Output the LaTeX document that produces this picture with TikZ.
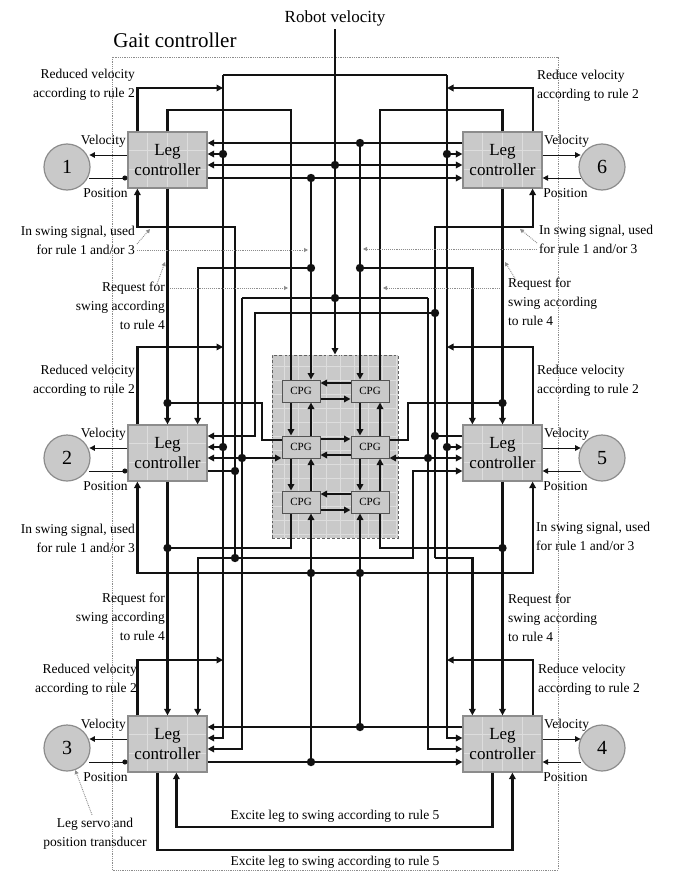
\documentclass[tikz,border=0pt]{standalone}
\usepackage{fontspec}
\setmainfont{Liberation Serif}
\usetikzlibrary{arrows.meta,calc}
\definecolor{boxgrey}{HTML}{C9C9C9}
\definecolor{gridgrey}{HTML}{DDDDDD}
\definecolor{wire}{HTML}{121212}
\definecolor{frame}{HTML}{8C8C8C}

\begin{document}
\begin{tikzpicture}[x=1pt,y=-1pt,
  font=\fontsize{13.5}{19}\selectfont,
  legc/.style={draw=frame,fill=boxgrey,line width=1.2pt,minimum width=79pt,minimum height=56pt,
               align=center,inner sep=0pt,font=\fontsize{17}{20}\selectfont,
               path picture={
                 \foreach \f in {0.25,0.5,0.75}
                   \draw[gridgrey,line width=0.8pt]
                     ($(path picture bounding box.north west)!\f!(path picture bounding box.north east)$) -- ++(0,60);
                 \foreach \f in {0.33,0.67}
                   \draw[gridgrey,line width=0.8pt]
                     ($(path picture bounding box.north west)!\f!(path picture bounding box.south west)$) -- ++(80,0);}},
  leg/.style={circle,draw=frame,fill=boxgrey,line width=1.2pt,minimum size=46pt,inner sep=0pt,
              font=\fontsize{20}{20}\selectfont},
  cpg/.style={draw=frame!60!black,fill=boxgrey,line width=1pt,minimum width=38pt,minimum height=22pt,
              inner sep=0pt,font=\fontsize{11}{11}\selectfont},
  lblr/.style={align=right,anchor=east,inner sep=0pt},
  lbll/.style={align=left,anchor=west,inner sep=0pt},
  w/.style={draw=wire,line width=2.2pt},
  wa/.style={w,-{Triangle[length=6.5pt,width=6.5pt]}},
  io/.style={draw=wire,line width=1pt,-{Triangle[length=5.5pt,width=5.5pt]}},
  iod/.style={draw=wire,line width=1pt,-{Circle[length=5pt]}},
  ptr/.style={draw=frame,densely dotted,line width=0.9pt,-{Triangle[length=4pt,width=4pt]}}]
\useasboundingbox (0,0) rectangle (675,875);

% frame and titles
\node[font=\fontsize{17}{17}\selectfont] (rv) at (335,18) {Robot velocity};
\node[font=\fontsize{21}{21}\selectfont] (gc) at (175,40) {Gait controller};
\draw[frame,densely dotted,line width=0.8pt] (112,57) rectangle (558,870);

% CPG network
\node[draw=frame!70!black,densely dashed,line width=1pt,fill=boxgrey,
      minimum width=126pt,minimum height=183pt,inner sep=0pt] (cpgs) at (335,446.5) {};
\begin{scope}
  \clip (cpgs.south west) rectangle (cpgs.north east);
  \foreach \x in {284,298,...,396} \draw[gridgrey,line width=0.8pt] (\x,355) -- (\x,538);
  \foreach \y in {366,380,...,538} \draw[gridgrey,line width=0.8pt] (272,\y) -- (398,\y);
\end{scope}
\node[cpg] (cTL) at (301,391) {CPG};
\node[cpg] (cTR) at (370,391) {CPG};
\node[cpg] (cML) at (301,447) {CPG};
\node[cpg] (cMR) at (370,447) {CPG};
\node[cpg] (cBL) at (301,502) {CPG};
\node[cpg] (cBR) at (370,502) {CPG};

% leg controllers and legs
\node[legc] (L1) at (167.5,160) {Leg\\controller};
\node[legc] (L2) at (167.5,453) {Leg\\controller};
\node[legc] (L3) at (167.5,744) {Leg\\controller};
\node[legc] (R6) at (502.5,160) {Leg\\controller};
\node[legc] (R5) at (502.5,453) {Leg\\controller};
\node[legc] (R4) at (502.5,744) {Leg\\controller};
\node[leg] (g1) at (67,167) {1};
\node[leg] (g2) at (67,458) {2};
\node[leg] (g3) at (67,748) {3};
\node[leg] (g6) at (602,167) {6};
\node[leg] (g5) at (602,458) {5};
\node[leg] (g4) at (602,748) {4};

% signal rows on the inner side of each controller
\foreach \c in {L1,L2,L3}{
  \coordinate (r1\c) at ($(\c.east)+(0,-17)$);
  \coordinate (r2\c) at ($(\c.east)+(0,-6)$);
  \coordinate (r3\c) at ($(\c.east)+(0,5)$);
  \coordinate (r4\c) at ($(\c.east)+(0,18)$);
}
\foreach \c in {R6,R5,R4}{
  \coordinate (r1\c) at ($(\c.west)+(0,-17)$);
  \coordinate (r2\c) at ($(\c.west)+(0,-6)$);
  \coordinate (r3\c) at ($(\c.west)+(0,5)$);
  \coordinate (r4\c) at ($(\c.west)+(0,18)$);
}
\coordinate (bA) at (223,75);  \coordinate (bAr) at (447,75);
\coordinate (bV) at (242,298); \coordinate (bVr) at (428,298);
\coordinate (bS) at (235,227); \coordinate (bSr) at (435,227);
\coordinate (kA) at ($(cTL.north)+(-10,0)$); \coordinate (kB) at ($(cTL.north)+(10,0)$);
\coordinate (kC) at ($(cTR.north)+(-10,0)$); \coordinate (kD) at ($(cTR.north)+(10,0)$);

% velocity / position to the legs
\foreach \c in {L1,L2,L3}{
  \draw[io] ($(\c.west)+(0,-5)$) -- ++(-38,0);
  \draw[iod] ($(\c.west)+(-38,18)$) -- ++(38,0);
  \node (v\c) at ($(\c.west)+(-24,-19)$) {Velocity};
  \node (p\c) at ($(\c.west)+(-22,33)$) {Position};
}
\foreach \c in {R6,R5,R4}{
  \draw[io] ($(\c.east)+(0,-5)$) -- ++(38,0);
  \draw[io] ($(\c.east)+(38,18)$) -- ++(-38,0);
  \node (v\c) at ($(\c.east)+(24,-19)$) {Velocity};
  \node (p\c) at ($(\c.east)+(23,33)$) {Position};
}

% reduced velocity (rule 2)
\draw[w] (bA) -- (bAr);
\draw[wa] (bA) |- (r2L3);
\draw[wa] (bAr) |- (r2R4);
\draw[wa] ($(L1.north west)+(10,0)$) |- (223,88);
\draw[wa] ($(L2.north west)+(10,0)$) |- (223,347);
\draw[wa] ($(L3.north west)+(10,0)$) |- (223,660);
\draw[wa] ($(R6.north east)+(-10,0)$) |- (447,88);
\draw[wa] ($(R5.north east)+(-10,0)$) |- (447,347);
\draw[wa] ($(R4.north east)+(-10,0)$) |- (447,660);
\foreach \c in {L1,L2} \draw[wa] (r2\c -| bA) -- (r2\c);
\foreach \c in {R6,R5} \draw[wa] (r2\c -| bAr) -- (r2\c);

% robot velocity
\draw[wa] (rv.south) -- (cpgs.north);
\draw[wa] (r3L1 -| rv.south) -- (r3L1);
\draw[wa] (r3L1 -| rv.south) -- (r3R6);
\draw[w] (bV) -- (bVr);
\draw[wa] (bV) |- (r3L3);
\draw[wa] (bVr) |- (r3R4);
\draw[wa] (r3L2 -| bV) -- (r3L2);
\draw[wa] (r3L2 -| bV) -- (r3L2 -| cML.west);
\draw[wa] (r3R5 -| bVr) -- (r3R5);
\draw[wa] (r3R5 -| bVr) -- (r3R5 -| cMR.east);

% neighbour links and CPG feeds
\draw[wa] (r4L1) -- (r4R6);
\draw[wa] (r1R6) -- (r1L1);
\draw[wa] (r4L3) -- (r4R4);
\draw[wa] (r1R4) -- (r1L3);
\draw[wa] (r4L1 -| kB) -- (kB);
\draw[wa] (r1R6 -| kC) -- (kC);
\draw[wa] (r4L3 -| kB) -- ($(cBL.south)+(10,0)$);
\draw[wa] (r1R4 -| kC) -- ($(cBR.south)+(-10,0)$);
\draw[wa] (311,268) -| ($(L2.north east)+(-10,0)$);
\draw[wa] (360,268) -| ($(R5.north west)+(10,0)$);
\draw[w] (L1.north) |- (291,110) -- (kA);
\draw[w] (R6.north) |- (380,110) -- (kD);

% request for swing (rule 4)
\draw[wa] (L1.south) -- (L2.north);
\draw[wa] (L2.south) -- (L3.north);
\draw[wa] (R6.south) -- (R5.north);
\draw[wa] (R5.south) -- (R4.north);
\draw[w] (167.5,403) -| (262,440) -- ($(cML.west)+(0,-7)$);
\draw[w] (502.5,403) -| (408,440) -- ($(cMR.east)+(0,-7)$);
\draw[w] (167.5,548) -| ($(cBL.south)+(-10,0)$);
\draw[w] (502.5,548) -| ($(cBR.south)+(10,0)$);

% in swing signal (rules 1 and 3)
\draw[wa] (235,558) -- (bS) -| ($(L1.south west)+(10,0)$);
\draw[wa] (435,558) -- (bSr) -| ($(R6.south east)+(-10,0)$);
\draw[wa] (235,558) -| ($(L3.north east)+(-10,0)$);
\draw[wa] (435,558) -| ($(R4.north west)+(10,0)$);
\draw[wa] (235,558) -- (413,558) |- (r4R5);
\draw[wa] (435,313) -- (255,313) |- (r1L2);
\draw[w] (r4L2) -- (r4L2 -| bS);
\draw[w] (r1R5) -- (r1R5 -| bSr);
\draw[w,{Triangle[length=6.5pt,width=6.5pt]}-{Triangle[length=6.5pt,width=6.5pt]}]
  ($(L2.south west)+(10,0)$) |- (335,573) -| ($(R5.south east)+(-10,0)$);

% excite leg to swing (rule 5)
\draw[wa] ($(R4.south west)+(30,0)$) |- (335,827) -| ($(L3.south west)+(49,0)$);
\draw[wa] ($(L3.south west)+(30,0)$) |- (335,850) -| ($(R4.south west)+(50,0)$);

% inside the CPG block
\foreach \a/\b in {cTL/cML,cML/cBL,cTR/cMR,cMR/cBR}{
  \draw[wa] ($(\a.south)+(-10,0)$) -- ($(\b.north)+(-10,0)$);
  \draw[wa] ($(\b.north)+(10,0)$) -- ($(\a.south)+(10,0)$);
}
\draw[wa] ($(cTR.west)+(0,-8)$) -- ($(cTL.east)+(0,-8)$);
\draw[wa] ($(cTL.east)+(0,8)$) -- ($(cTR.west)+(0,8)$);
\draw[wa] ($(cML.east)+(0,-8)$) -- ($(cMR.west)+(0,-8)$);
\draw[wa] ($(cMR.west)+(0,8)$) -- ($(cML.east)+(0,8)$);
\draw[wa] ($(cBR.west)+(0,-8)$) -- ($(cBL.east)+(0,-8)$);
\draw[wa] ($(cBL.east)+(0,8)$) -- ($(cBR.west)+(0,8)$);

% junctions
\foreach \p in {r2L1 -| bA, r2L2 -| bA, r2R6 -| bAr, r2R5 -| bAr,
                r3L1 -| rv.south, bV -| rv.south, r3L2 -| bV, r3R5 -| bVr,
                r4L1 -| kB, r1R6 -| kC, r4L3 -| kB, r1R4 -| kC,
                r4L2 -| bS, r1R5 -| bSr}
  \fill[wire] (\p) circle (4.2);
\foreach \p in {{311,268},{360,268},{167.5,403},{502.5,403},{167.5,548},{502.5,548},
                {235,558},{435,313},{311,573},{360,573}}
  \fill[wire] (\p) circle (4.2);

% labels
\node[lblr] (rd1) at (135,85) {Reduced velocity\\according to rule 2};
\node[lblr] (rd2) at (135,381) {Reduced velocity\\according to rule 2};
\node[lblr] (rd3) at (137,680) {Reduced velocity\\according to rule 2};
\node[lbll] (rd6) at (537,86) {Reduce velocity\\according to rule 2};
\node[lbll] (rd5) at (537,381) {Reduce velocity\\according to rule 2};
\node[lbll] (rd4) at (538,680) {Reduce velocity\\according to rule 2};
\node[lblr] (sw1) at (135,240) {In swing signal, used\\for rule 1 and/or 3};
\node[lblr] (sw2) at (135,538) {In swing signal, used\\for rule 1 and/or 3};
\node[lbll] (sw6) at (539,239) {In swing signal, used\\for rule 1 and/or 3};
\node[lbll] (sw5) at (536,536) {In swing signal, used\\for rule 1 and/or 3};
\node[lblr] (rq1) at (165,306) {Request for\\swing according\\to rule 4};
\node[lblr] (rq2) at (165,617) {Request for\\swing according\\to rule 4};
\node[lbll] (rq6) at (508,302) {Request for\\swing according\\to rule 4};
\node[lbll] (rq5) at (508,618) {Request for\\swing according\\to rule 4};
\node[align=center] (srv) at (95,834) {Leg servo and\\position transducer};
\node (ex1) at (335,816) {Excite leg to swing according to rule 5};
\node (ex2) at (335,862) {Excite leg to swing according to rule 5};

% label pointers
\draw[ptr] ($(sw1.east)+(2,4)$) -- (150,229);
\draw[ptr] ($(sw1.east)+(2,10)$) -- (308,250);
\draw[ptr] ($(sw6.west)+(-2,4)$) -- (520,229);
\draw[ptr] ($(sw6.west)+(-2,10)$) -- (363,249);
\draw[ptr] ($(rq1.north east)+(-8,2)$) -- (165,262);
\draw[ptr] (170,288) -- (288,288);
\draw[ptr] ($(rq6.north west)+(8,2)$) -- (505,262);
\draw[ptr] (500,288) -- (383,288);
\draw[ptr] ($(srv.north)+(-3,0)$) -- (g3);
\end{tikzpicture}
\end{document}
